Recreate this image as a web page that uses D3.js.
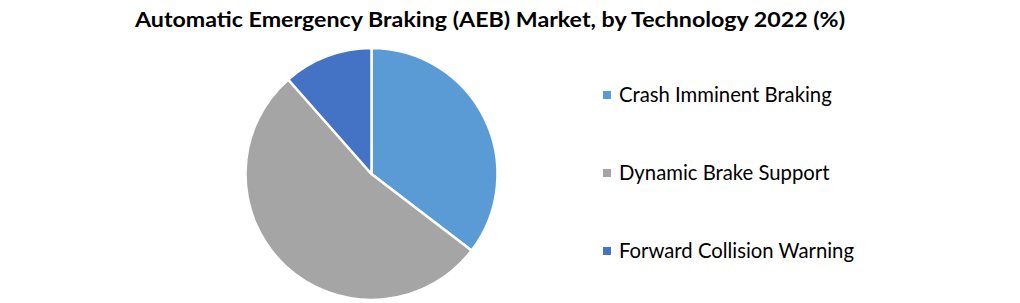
<!DOCTYPE html>
<html>
<head>
<meta charset="utf-8">
<script src="https://cdn.jsdelivr.net/npm/d3@7.9.0/dist/d3.min.js"></script>
<style>
  body { margin: 0; background: #fff; }
  svg { display: block; }
</style>
</head>
<body>
<svg id="chart" width="1020" height="303"></svg>
<script>
// data (share in %)
const categories = ['Crash Imminent Braking', 'Dynamic Brake Support', 'Forward Collision Warning'];
const shares = [35.4, 53.1, 11.5];
const colors = ['#5b9bd5', '#a5a5a5', '#4472c4'];
const title = 'Automatic Emergency Braking (AEB) Market, by Technology 2022 (%)';

const svg = d3.select('#chart');
const font = 'Lato, "Open Sans", sans-serif';

// title
svg.append('text')
  .attr('x', 490)
  .attr('y', 27)
  .attr('text-anchor', 'middle')
  .attr('font-family', font)
  .attr('font-weight', 'bold')
  .attr('font-size', 21)
  .attr('textLength', 710)
  .attr('lengthAdjust', 'spacingAndGlyphs')
  .attr('fill', '#000')
  .text(title);

// pie
const data = categories.map((c, i) => ({ label: c, value: shares[i] }));
const pie = d3.pie().value(d => d.value).sort(null);
const arc = d3.arc().innerRadius(0).outerRadius(126);

const g = svg.append('g').attr('transform', 'translate(371.5,174)');
g.selectAll('path')
  .data(pie(data))
  .join('path')
  .attr('d', arc)
  .attr('fill', (d, i) => colors[i])
  .attr('stroke', '#fff')
  .attr('stroke-width', 2.5)
  .attr('stroke-linejoin', 'round');

// legend
const legendY = d3.scalePoint().domain(categories).range([95, 251]);
const legend = svg.append('g');
categories.forEach((c, i) => {
  legend.append('rect')
    .attr('x', 603)
    .attr('y', legendY(c) - 4)
    .attr('width', 8)
    .attr('height', 8)
    .attr('fill', colors[i]);
  legend.append('text')
    .attr('x', 619)
    .attr('y', legendY(c))
    .attr('dy', '0.35em')
    .attr('font-family', font)
    .attr('font-size', 20.3)
    .attr('fill', '#000')
    .text(c);
});
</script>
</body>
</html>
